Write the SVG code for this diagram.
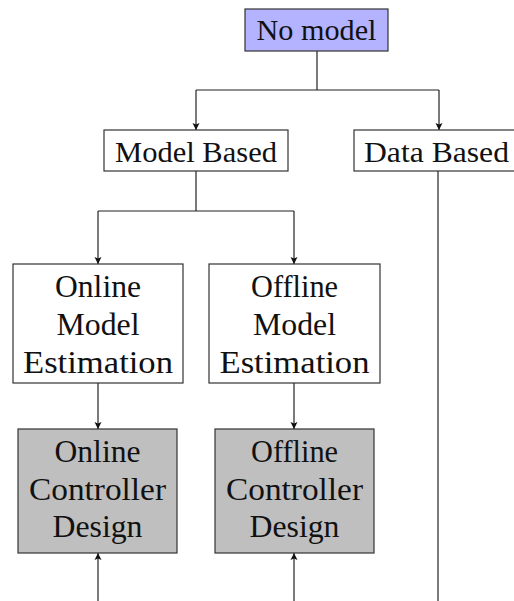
<svg xmlns="http://www.w3.org/2000/svg" width="514" height="601" viewBox="0 0 514 601">
<style>
.box{stroke:#333;stroke-width:1.2}
.w{fill:#fff}
.b{fill:#b3b3ff}
.g{fill:#bfbfbf}
text{font-family:"Liberation Serif","Times New Roman",serif;font-size:29px;fill:#111;text-anchor:middle}
text.l{font-size:30.5px}
.c{fill:none;stroke:#222;stroke-width:1.2}
</style>
<defs>
<marker id="ah" markerUnits="userSpaceOnUse" markerWidth="10" markerHeight="10" viewBox="0 0 10 10" refX="8" refY="5" orient="auto">
<path d="M1,1.5 L8,5 L1,8.5 L2.5,5 Z" fill="#111"/>
</marker>
</defs>
<g id="connectors">
<path class="c" d="M317,51 V90 M196,90 H439"/>
<path class="c" d="M196,90 V130" marker-end="url(#ah)"/>
<path class="c" d="M439,90 V130" marker-end="url(#ah)"/>
<path class="c" d="M196,171 V211 M98,211 H294"/>
<path class="c" d="M98,211 V264" marker-end="url(#ah)"/>
<path class="c" d="M294,211 V264" marker-end="url(#ah)"/>
<path class="c" d="M98,383 V429" marker-end="url(#ah)"/>
<path class="c" d="M294,383 V429" marker-end="url(#ah)"/>
<path class="c" d="M98,601 V553" marker-end="url(#ah)"/>
<path class="c" d="M294,601 V553" marker-end="url(#ah)"/>
<path class="c" d="M438,171 V601"/>
</g>
<g id="no-model">
<rect class="box b" x="245" y="9" width="143" height="42"/>
<text x="316.5" y="40" textLength="120" lengthAdjust="spacingAndGlyphs">No model</text>
</g>
<g id="model-based">
<rect class="box w" x="104" y="130" width="184" height="41"/>
<text x="196" y="162" textLength="162" lengthAdjust="spacingAndGlyphs">Model Based</text>
</g>
<g id="data-based">
<rect class="box w" x="354" y="130" width="170" height="41"/>
<text x="436.5" y="162" textLength="145" lengthAdjust="spacingAndGlyphs">Data Based</text>
</g>
<g id="online-estimation">
<rect class="box w" x="13" y="264" width="170" height="119"/>
<text class="l" x="98" y="297" textLength="86" lengthAdjust="spacingAndGlyphs">Online</text>
<text class="l" x="98" y="335" textLength="83" lengthAdjust="spacingAndGlyphs">Model</text>
<text class="l" x="98" y="373" textLength="150" lengthAdjust="spacingAndGlyphs">Estimation</text>
</g>
<g id="offline-estimation">
<rect class="box w" x="209" y="264" width="171" height="119"/>
<text class="l" x="294.5" y="297" textLength="87" lengthAdjust="spacingAndGlyphs">Offline</text>
<text class="l" x="294.5" y="335" textLength="83" lengthAdjust="spacingAndGlyphs">Model</text>
<text class="l" x="294.5" y="373" textLength="150" lengthAdjust="spacingAndGlyphs">Estimation</text>
</g>
<g id="online-controller">
<rect class="box g" x="18" y="429" width="159" height="124"/>
<text class="l" x="97.5" y="462" textLength="86" lengthAdjust="spacingAndGlyphs">Online</text>
<text class="l" x="97.5" y="499.5" textLength="137" lengthAdjust="spacingAndGlyphs">Controller</text>
<text class="l" x="97.5" y="537" textLength="90" lengthAdjust="spacingAndGlyphs">Design</text>
</g>
<g id="offline-controller">
<rect class="box g" x="215" y="429" width="159" height="124"/>
<text class="l" x="294.5" y="462" textLength="87" lengthAdjust="spacingAndGlyphs">Offline</text>
<text class="l" x="294.5" y="499.5" textLength="137" lengthAdjust="spacingAndGlyphs">Controller</text>
<text class="l" x="294.5" y="537" textLength="90" lengthAdjust="spacingAndGlyphs">Design</text>
</g>
</svg>
